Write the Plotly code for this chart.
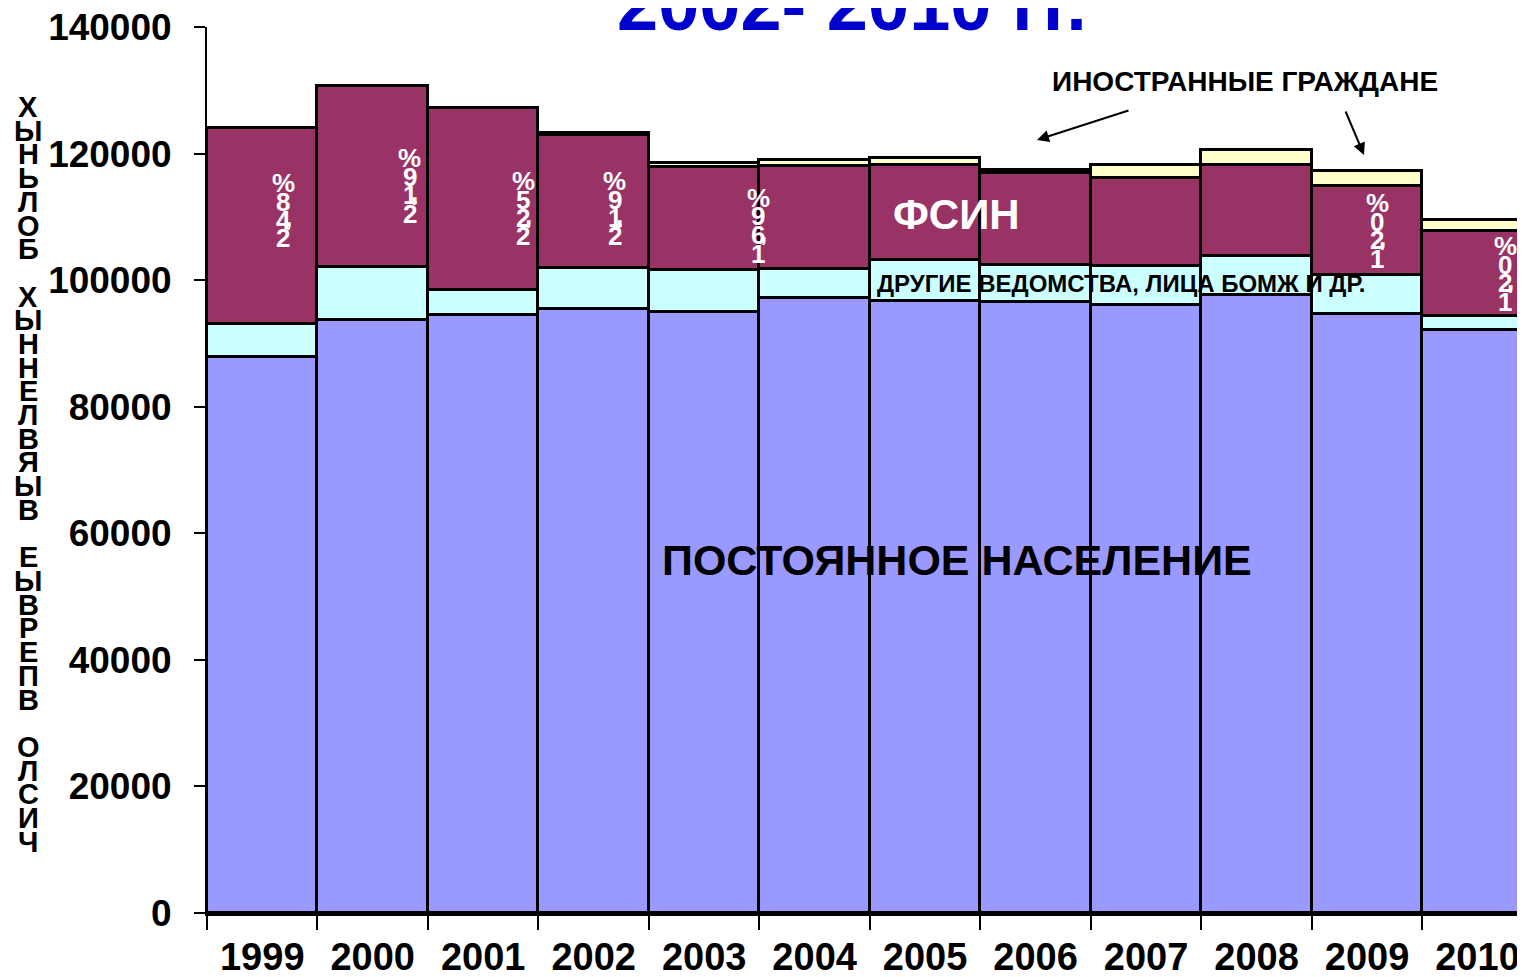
import plotly.graph_objects as go

years = ['1999', '2000', '2001', '2002', '2003', '2004', '2005', '2006', '2007', '2008', '2009', '2010']
resident = [87900, 93750, 94550, 95500, 95000, 97200, 96650, 96500, 96100, 97700, 94700, 92200]
other_depts = [5200, 8250, 3950, 6450, 6550, 4550, 6600, 5950, 6200, 6050, 6150, 2100]
fsin = [31000, 28650, 28700, 21050, 16400, 16350, 15000, 14450, 13850, 14500, 14000, 13400]
foreigners = [0, 0, 0, 300, 600, 850, 1050, 500, 2100, 2250, 2350, 1850]

share_years = ['1999', '2000', '2001', '2002', '2003', '2009', '2010']
share_labels = ['24,8%', '21,9%', '22,5%', '21,9%', '16,9%', '12,0%', '12,0%']

y_title = 'Число впервые выявленных больных'

FONT = 'Liberation Sans'
# page body has an 8px margin, so the figure is shifted by that much
OFF = 8
W, H = 1525 - OFF, 977 - OFF
L, T, B = 207 - OFF, 27 - OFF, 64
PW, PH = W - L, H - T - B


def px_x(x):
    # page pixel -> paper
    return (x - OFF - L) / PW


def px_y(y):
    return (H - B - (y - OFF)) / PH


fig = go.Figure()
series = [
    (resident, '#9999FF', 'Постоянное население'),
    (other_depts, '#CCFFFF', 'Другие ведомства'),
    (fsin, '#993366', 'ФСИН'),
    (foreigners, '#FFFFCC', 'Иностранные граждане'),
]
for vals, col, name in series:
    fig.add_trace(go.Bar(x=years, y=vals, name=name, marker_color=col,
                         marker_line=dict(color='black', width=3)))

ann = []


def note(text, x, y, size, color='black', xref='paper', xshift=0):
    ann.append(dict(x=x, xref=xref, y=y, yref='paper', text=text, showarrow=False,
                    xanchor='center', yanchor='middle', xshift=xshift,
                    font=dict(family=FONT, size=size, color=color, weight='bold')))


def stacked(text, x, ytop, step, size, color, xref='paper', xshift=0):
    # letters stacked one under another, reading bottom-up
    y = ytop
    for ch in reversed(text):
        if ch == ' ':
            y += step
            continue
        if ch == ',':
            note(ch, x, px_y(y - step * 0.15), size, color, xref, xshift + 5)
            continue
        note(ch, x, px_y(y), size, color, xref, xshift)
        y += step


# y-axis title, letters stacked
stacked(y_title.upper(), px_x(28), 107, 23.7, 29, 'black')

# share labels inside the FSIN segment
label_pos = {'1999': (21, 183), '2000': (37, 158), '2001': (40, 181), '2002': (21, 181),
             '2003': (54, 198), '2009': (10, 203), '2010': (28, 246)}
for yr, lab in zip(share_years, share_labels):
    dx, ytop = label_pos[yr]
    stacked(lab, years.index(yr), ytop, 18.5, 26, 'white', xref='x', xshift=dx)


def txt(text, x, y, size, color='black'):
    note(text, px_x(x), px_y(y), size, color)


txt('2002- 2010 гг.', 852, 4, 74, '#0000CC')
txt('ИНОСТРАННЫЕ ГРАЖДАНЕ', 1245, 82, 28)
txt('ФСИН', 956, 215, 42, 'white')
txt('ДРУГИЕ ВЕДОМСТВА, ЛИЦА БОМЖ И ДР.', 1121, 283, 24)
txt('ПОСТОЯННОЕ НАСЕЛЕНИЕ', 957, 560, 43)

for hx, hy, tx, ty in [(1037, 140, 1130, 110), (1364, 155, 1345, 110)]:
    ann.append(dict(x=px_x(hx), y=px_y(hy), xref='paper', yref='paper', text='',
                    showarrow=True, arrowhead=2, arrowsize=1.2, arrowwidth=2,
                    arrowcolor='black', ax=tx - hx, ay=ty - hy))

fig.update_layout(
    barmode='stack',
    bargap=0,
    width=W, height=H,
    margin=dict(l=L, r=0, t=T, b=B, pad=0, autoexpand=False),
    plot_bgcolor='white',
    paper_bgcolor='white',
    showlegend=False,
    annotations=ann,
    font=dict(family=FONT, color='black'),
)
fig.update_xaxes(type='category', range=[-0.5, 11.43], showline=True, linecolor='black',
                 linewidth=3, ticks='outside', tickson='boundaries', ticklen=14,
                 tickwidth=2, tickcolor='black', showgrid=False, automargin=False,
                 ticklabelstandoff=8, ticklabeloverflow='allow',
                 tickfont=dict(family=FONT, size=38, color='black', weight='bold'))
fig.update_yaxes(range=[0, 140000], dtick=20000, tickformat='d', showline=True,
                 linecolor='black', linewidth=2, ticks='outside', ticklen=11,
                 tickwidth=2, tickcolor='black', showgrid=False, zeroline=False,
                 ticklabelstandoff=15, automargin=False, ticklabeloverflow='allow',
                 tickfont=dict(family=FONT, size=37, color='black', weight='bold'))

fig.write_html('out.html')
